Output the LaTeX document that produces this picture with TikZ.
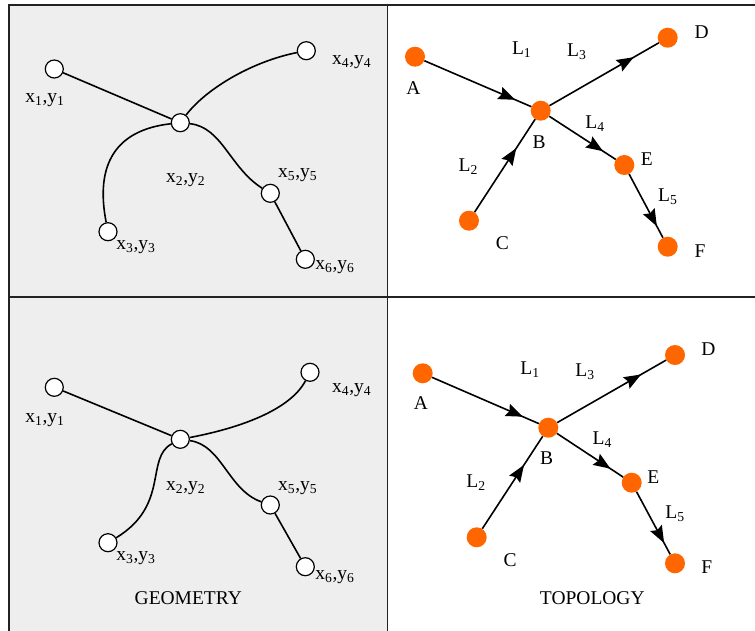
\documentclass[tikz,border=0pt]{standalone}
\usepackage{fontspec}
\setmainfont{Liberation Serif}
\usepackage{tikz}
\usetikzlibrary{arrows.meta, decorations.markings}
\definecolor{panelgray}{HTML}{EEEEEE}
\definecolor{framegray}{HTML}{222222}
\definecolor{vertex}{HTML}{FF6600}
\tikzset{
	gnode/.style={circle, draw=black, line width=1.2pt, fill=white,
		minimum size=18pt, inner sep=0pt},
	tnode/.style={circle, fill=vertex, minimum size=20pt, inner sep=0pt},
	geo/.style={line width=1.6pt},
	link/.style={line width=1.6pt, postaction={decorate},
		decoration={markings, mark=at position #1 with {\arrow{Stealth[length=17pt,width=13pt,inset=2.5pt]}}}},
	lbl/.style={inner sep=0pt},
	rule/.style={line width=1.3pt, framegray},
}
\newcommand{\xy}[1]{x\textsubscript{#1},y\textsubscript{#1}}

\begin{document}
\begin{tikzpicture}[x=1pt, y=-1pt, font=\fontsize{19.5}{22}\selectfont]
		\useasboundingbox (0,0) rectangle (755,630);
		\clip (0,0) rectangle (755,630);
		% panels
		\fill[panelgray] (9,5) rectangle (387.5,640);
		\draw[rule] (9,640)--(9,5)--(760,5);
		\draw[rule] (387.5,5)--(387.5,640);
		\draw[rule] (9,297)--(760,297);

		% geometry, top
		\node[gnode] (g1) at (54.3,69) {};
		\node[gnode] (g2) at (180.3,122.7) {};
		\node[gnode] (g3) at (108,231.7) {};
		\node[gnode] (g4) at (306.3,50.7) {};
		\node[gnode] (g5) at (270.3,193.3) {};
		\node[gnode] (g6) at (305.3,259.3) {};
		\draw[geo] (g1)--(g2);
		\draw[geo] (g2) .. controls (205,90) and (250,62) .. (g4);
		\draw[geo] (g2) .. controls (115,130) and (95,165) .. (g3);
		\draw[geo] (g2) .. controls (222,127) and (230,168) .. (g5);
		\draw[geo] (g5)--(g6);
		\node[lbl] (gx1) at (45,100) {\xy{1}};
		\node[lbl] (gx2) at (185.7,180) {\xy{2}};
		\node[lbl] (gx3) at (136,246.7) {\xy{3}};
		\node[lbl] (gx4) at (351.7,61.7) {\xy{4}};
		\node[lbl] (gx5) at (297.7,175) {\xy{5}};
		\node[lbl] (gx6) at (335,266.7) {\xy{6}};

		% geometry, bottom
		\node[gnode] (h1) at (54.3,387.3) {};
		\node[gnode] (h2) at (180.3,439.3) {};
		\node[gnode] (h3) at (108,542.7) {};
		\node[gnode] (h4) at (310,372.3) {};
		\node[gnode] (h5) at (270.3,505) {};
		\node[gnode] (h6) at (305.3,566.7) {};
		\draw[geo] (h1)--(h2);
		\draw[geo] (h2) .. controls (240,428) and (290,410) .. (h4);
		\draw[geo] (h2) .. controls (145,458) and (170,505) .. (h3);
		\draw[geo] (h2) .. controls (222,445) and (228,490) .. (h5);
		\draw[geo] (h5)--(h6);
		\node[lbl] (hx1) at (45,420) {\xy{1}};
		\node[lbl] (hx2) at (185.7,487.7) {\xy{2}};
		\node[lbl] (hx3) at (136,558.3) {\xy{3}};
		\node[lbl] (hx4) at (351.7,390) {\xy{4}};
		\node[lbl] (hx5) at (297.7,488.3) {\xy{5}};
		\node[lbl] (hx6) at (335,576.7) {\xy{6}};
		\node[lbl] (geom) at (188.3,597.7) {GEOMETRY};

		% topology, top
		\node[tnode] (tA) at (415,56.7) {};
		\node[tnode] (tB) at (540.7,110.7) {};
		\node[tnode] (tC) at (469,220.7) {};
		\node[tnode] (tD) at (667.7,37.7) {};
		\node[tnode] (tE) at (624.3,165) {};
		\node[tnode] (tF) at (667.7,246.7) {};
		\draw[link=0.85] (tA)--(tB);
		\draw[link=0.69] (tC)--(tB);
		\draw[link=0.77] (tB)--(tD);
		\draw[link=0.81] (tB)--(tE);
		\draw[link=0.82] (tE)--(tF);
		\node[lbl] at (413.3,88.3) {A};
		\node[lbl] at (539,141.7) {B};
		\node[lbl] at (502.3,243.3) {C};
		\node[lbl] at (701.7,31.7) {D};
		\node[lbl] at (646.7,159.3) {E};
		\node[lbl] at (700,250.7) {F};
		\node[lbl] at (521.7,50) {L\textsubscript{1}};
		\node[lbl] at (468.3,166.7) {L\textsubscript{2}};
		\node[lbl] at (576.7,51.7) {L\textsubscript{3}};
		\node[lbl] at (595,123.3) {L\textsubscript{4}};
		\node[lbl] at (667.7,196.7) {L\textsubscript{5}};

		% topology, bottom
		\node[tnode] (bA) at (422.7,373.3) {};
		\node[tnode] (bB) at (548.3,427.7) {};
		\node[tnode] (bC) at (476.7,537.3) {};
		\node[tnode] (bD) at (675,355) {};
		\node[tnode] (bE) at (631.7,482.7) {};
		\node[tnode] (bF) at (675,563.3) {};
		\draw[link=0.85] (bA)--(bB);
		\draw[link=0.69] (bC)--(bB);
		\draw[link=0.77] (bB)--(bD);
		\draw[link=0.81] (bB)--(bE);
		\draw[link=0.82] (bE)--(bF);
		\node[lbl] at (421,403.3) {A};
		\node[lbl] at (546.7,457.7) {B};
		\node[lbl] at (510,560) {C};
		\node[lbl] at (708.3,349) {D};
		\node[lbl] at (653.3,476.7) {E};
		\node[lbl] at (706.7,566.7) {F};
		\node[lbl] at (530,370) {L\textsubscript{1}};
		\node[lbl] at (476,482.7) {L\textsubscript{2}};
		\node[lbl] at (585,371.7) {L\textsubscript{3}};
		\node[lbl] at (602.3,440) {L\textsubscript{4}};
		\node[lbl] at (675,513.3) {L\textsubscript{5}};
		\node[lbl] (topo) at (592.3,598.3) {TOPOLOGY};
	\end{tikzpicture}
\end{document}
